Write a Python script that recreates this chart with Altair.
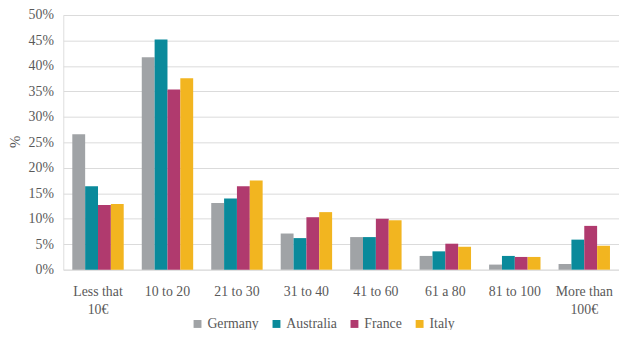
import altair as alt
import pandas as pd

categories = ["Less that\n10€", "10 to 20", "21 to 30", "31 to 40", "41 to 60",
              "61 a 80", "81 to 100", "More than\n100€"]
countries = ["Germany", "Australia", "France", "Italy"]
germany = [26.6, 41.7, 13.1, 7.1, 6.4, 2.7, 1.0, 1.1]
australia = [16.4, 45.2, 14.0, 6.2, 6.4, 3.6, 2.7, 5.9]
france = [12.7, 35.4, 16.4, 10.3, 10.0, 5.1, 2.5, 8.6]
italy = [12.9, 37.6, 17.5, 11.3, 9.7, 4.5, 2.5, 4.7]
colors = ["#A0A3A6", "#0A8A9B", "#B03A6E", "#F2B520"]

rows = []
for name, vals in zip(countries, [germany, australia, france, italy]):
    for c, v in zip(categories, vals):
        rows.append({"cat": c, "country": name, "value": v / 100})
df = pd.DataFrame(rows)

FONT = "Liberation Serif"

chart = alt.Chart(df).mark_bar().encode(
    x=alt.X("cat:N", sort=categories,
            scale=alt.Scale(paddingInner=0.26, paddingOuter=0.13),
            axis=alt.Axis(title=None, labelAngle=0, labelExpr="split(datum.label, '\\n')",
                          labelFontSize=14, labelFont=FONT, labelColor="#595959",
                          labelLineHeight=18, labelPadding=15, ticks=False, domain=False)),
    xOffset=alt.XOffset("country:N", sort=countries,
                        scale=alt.Scale(paddingInner=0, paddingOuter=0)),
    y=alt.Y("value:Q", scale=alt.Scale(domain=[0, 0.5]),
            axis=alt.Axis(title="%", format=".0%", values=[i / 100 for i in range(0, 51, 5)],
                          labelFontSize=14, labelFont=FONT, labelColor="#595959",
                          labelPadding=10, ticks=False, domain=False,
                          gridColor="#DADADA", gridWidth=1,
                          titleFont=FONT, titleFontSize=15, titleColor="#595959",
                          titleFontWeight="normal", titleAngle=270,
                          titleX=-49, titleY=128, titleAlign="center", titleBaseline="middle")),
    color=alt.Color("country:N", sort=countries,
                    scale=alt.Scale(domain=countries, range=colors),
                    legend=alt.Legend(title=None, orient="none", direction="horizontal",
                                      legendX=129, legendY=306,
                                      symbolType="square", symbolSize=64, symbolStrokeWidth=0,
                                      labelFont=FONT, labelFontSize=14, labelColor="#595959",
                                      labelOffset=3, columnPadding=10)),
).properties(
    width=563, height=258,
    autosize=alt.AutoSizeParams(type="none"),
    padding={"left": 56, "top": 5, "right": 0, "bottom": 59},
).configure_view(stroke=None).configure_legend(
    labelFont=FONT, labelFontSize=14
).configure(font=FONT)

chart.save("out.html", embed_options={"renderer": "svg", "actions": False})
